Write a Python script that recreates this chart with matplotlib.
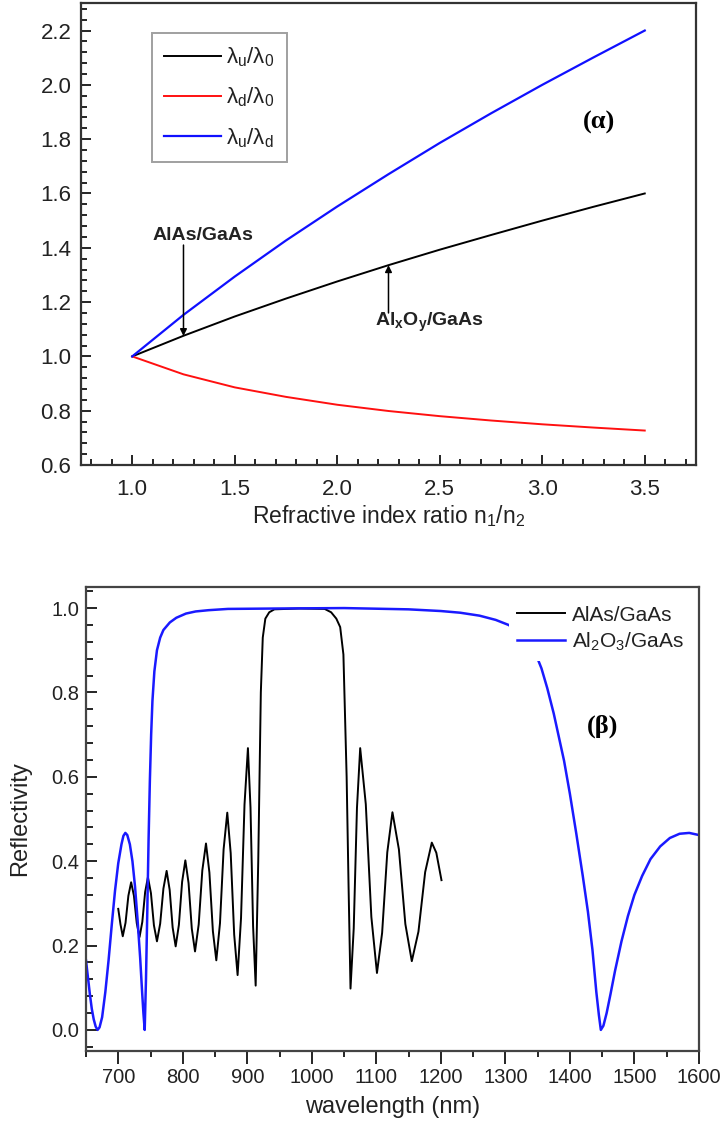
import numpy as np
import matplotlib
matplotlib.use('Agg')
import matplotlib.pyplot as plt
from matplotlib.ticker import MultipleLocator

plt.rc('font', family = 'Liberation Sans')
plt.rc('mathtext', default = 'regular')

# (a) stop band edges vs refractive index ratio
ratio = [1.0, 1.25, 1.5, 1.75, 2.0, 2.25, 2.5, 2.75, 3.0, 3.25, 3.5]
lam_u_0 = [1.000, 1.076, 1.147, 1.213, 1.276, 1.336, 1.393, 1.447, 1.500, 1.551, 1.600]
lam_d_0 = [1.000, 0.934, 0.886, 0.851, 0.822, 0.799, 0.780, 0.764, 0.750, 0.738, 0.727]
lam_u_d = [1.000, 1.153, 1.294, 1.427, 1.552, 1.671, 1.786, 1.895, 2.000, 2.101, 2.200]
labels_a = ['λ$_u$/λ$_0$', 'λ$_d$/λ$_0$', 'λ$_u$/λ$_d$']

# (b) reflectivity spectra
black_wl = [700, 703.5, 707, 711.3, 715.7, 720, 724.3, 728.7, 733, 737.3, 741.7, 746,
            750.7, 755.3, 760, 765, 770, 775, 779.7, 784.3, 789, 794, 799, 804, 809, 814,
            819, 824.7, 830.3, 836, 841.3, 846.7, 852, 857.7, 863.3, 869, 874.3, 879.7,
            885, 890.3, 895.7, 901, 905, 909, 913, 917, 921, 924, 928, 934, 942, 980,
            1020, 1030, 1038, 1044, 1049, 1054, 1057, 1060, 1065, 1070, 1075, 1083.7,
            1092.3, 1101, 1109, 1117, 1125, 1135, 1145, 1155, 1165.3, 1175.7, 1186,
            1193, 1201]
black_R = [0.287, 0.25, 0.222, 0.254, 0.318, 0.350, 0.318, 0.253, 0.220, 0.256, 0.327,
           0.362, 0.324, 0.248, 0.210, 0.252, 0.335, 0.377, 0.332, 0.243, 0.198, 0.249,
           0.351, 0.402, 0.348, 0.240, 0.186, 0.250, 0.378, 0.442, 0.373, 0.234, 0.165,
           0.253, 0.428, 0.515, 0.419, 0.226, 0.130, 0.265, 0.534, 0.668, 0.527, 0.246,
           0.105, 0.40, 0.80, 0.93, 0.975, 0.99, 0.997, 0.999, 0.998, 0.99, 0.975, 0.955,
           0.89, 0.60, 0.34, 0.098, 0.241, 0.526, 0.668, 0.535, 0.268, 0.135, 0.230,
           0.421, 0.516, 0.428, 0.251, 0.163, 0.233, 0.374, 0.444, 0.42, 0.355]
blue_wl = [650, 653, 656, 659, 662, 665, 668, 671, 675, 680, 685, 690, 695, 700, 705,
           708, 711, 714, 718, 722, 726, 730, 734, 737, 739, 741, 743, 745, 747, 749,
           751, 753, 756, 760, 765, 770, 780, 790, 805, 820, 840, 870, 950, 1050, 1150,
           1200, 1230, 1260, 1285, 1305, 1320, 1335, 1350, 1356, 1365, 1375, 1385, 1391,
           1400, 1410, 1420, 1428, 1435, 1441, 1445, 1448, 1452, 1457, 1463, 1470, 1480,
           1490, 1500, 1512, 1525, 1540, 1555, 1570, 1585, 1600]
blue_R = [0.165, 0.125, 0.085, 0.05, 0.025, 0.008, 0.0, 0.006, 0.03, 0.09, 0.165, 0.25,
          0.33, 0.395, 0.44, 0.46, 0.467, 0.462, 0.44, 0.40, 0.34, 0.26, 0.17, 0.09,
          0.04, 0.0, 0.12, 0.28, 0.45, 0.59, 0.70, 0.78, 0.85, 0.90, 0.93, 0.948, 0.966,
          0.977, 0.987, 0.992, 0.995, 0.998, 0.999, 1.0, 0.997, 0.993, 0.989, 0.982,
          0.972, 0.96, 0.945, 0.92, 0.88, 0.857, 0.81, 0.75, 0.68, 0.638, 0.56, 0.465,
          0.365, 0.28, 0.19, 0.09, 0.035, 0.0, 0.01, 0.04, 0.085, 0.14, 0.21, 0.27, 0.32,
          0.365, 0.405, 0.435, 0.455, 0.465, 0.467, 0.462]
labels_b = ['AlAs/GaAs', 'Al$_2$O$_3$/GaAs']

tick_color = '#222222'
fig = plt.figure(figsize = (7.25, 11.26), dpi = 100)

# ---- top panel
ax1 = fig.add_axes([0.1117, 0.587, 0.8483, 0.410])
ax1.plot(ratio, lam_u_0, color = 'black', lw = 1.4, label = labels_a[0])
ax1.plot(ratio, lam_d_0, color = '#ff1010', lw = 1.4, label = labels_a[1])
ax1.plot(ratio, lam_u_d, color = '#1010ff', lw = 1.6, label = labels_a[2])
ax1.set_xlim(0.75, 3.75)
ax1.set_ylim(0.6, 2.3)
ax1.xaxis.set_major_locator(MultipleLocator(0.5))
ax1.xaxis.set_minor_locator(MultipleLocator(0.1))
ax1.yaxis.set_major_locator(MultipleLocator(0.2))
ax1.yaxis.set_minor_locator(MultipleLocator(0.04))
ax1.xaxis.set_major_formatter('{x:.1f}')
ax1.yaxis.set_major_formatter('{x:.1f}')
ax1.tick_params(which = 'both', direction = 'in', top = False, right = False,
    labelsize = 16, labelcolor = tick_color, width = 1.2)
ax1.tick_params(which = 'major', length = 7)
ax1.tick_params(which = 'minor', length = 4)
ax1.tick_params(axis = 'x', pad = 10)
ax1.tick_params(axis = 'y', pad = 7)
ax1.set_xlabel('Refractive index ratio n$_1$/n$_2$', fontsize = 16.5,
    color = tick_color, labelpad = 2)
for s in ax1.spines.values():
    s.set_linewidth(1.6)
    s.set_color('#333333')

leg = ax1.legend(loc = 'upper left', bbox_to_anchor = (0.115, 0.935),
    borderaxespad = 0, borderpad = 0.55, handlelength = 2.55, handletextpad = 0.25,
    labelspacing = 0.75, fancybox = False, edgecolor = '#888888',
    prop = {'size': 16})
leg.get_frame().set_linewidth(1.4)
for t in leg.get_texts():
    t.set_color(tick_color)

ax1.annotate('', xy = (1.25, 1.075), xytext = (1.25, 1.41),
    arrowprops = dict(arrowstyle = '-|>', color = 'black', lw = 1.1,
                      mutation_scale = 10, shrinkA = 0, shrinkB = 0))
ax1.annotate('', xy = (2.25, 1.336), xytext = (2.25, 1.16),
    arrowprops = dict(arrowstyle = '-|>', color = 'black', lw = 1.1,
                      mutation_scale = 10, shrinkA = 0, shrinkB = 0))
ax1.text(1.345, 1.446, 'AlAs/GaAs', ha = 'center', va = 'center',
    fontsize = 14, fontweight = 'bold', color = '#222222')
ax1.text(2.45, 1.126, 'Al$_x$O$_y$/GaAs', ha = 'center', va = 'center',
    fontsize = 14, fontweight = 'bold', color = '#222222')
ax1.text(3.277, 1.86, '(α)', ha = 'center', va = 'center', fontsize = 19,
    fontweight = 'bold', family = 'Liberation Serif',
    bbox = dict(boxstyle = 'square,pad=0.6', fc = 'white', ec = 'none'))

# ---- bottom panel
ax2 = fig.add_axes([0.1186, 0.0666, 0.8454, 0.4121])
ax2.plot(black_wl, black_R, color = 'black', lw = 1.4, label = labels_b[0])
ax2.plot(blue_wl, blue_R, color = '#1a1aff', lw = 1.8, label = labels_b[1])
ax2.set_xlim(650, 1600)
ax2.set_ylim(-0.05, 1.05)
ax2.xaxis.set_major_locator(MultipleLocator(100))
ax2.xaxis.set_minor_locator(MultipleLocator(50))
ax2.yaxis.set_major_locator(MultipleLocator(0.2))
ax2.yaxis.set_minor_locator(MultipleLocator(0.04))
ax2.yaxis.set_major_formatter('{x:.1f}')
ax2.tick_params(axis = 'x', which = 'both', direction = 'out', top = False)
ax2.tick_params(axis = 'y', which = 'both', direction = 'in', right = False)
ax2.tick_params(which = 'both', labelsize = 14.5, labelcolor = tick_color, width = 1.2)
ax2.tick_params(axis = 'x', which = 'major', length = 9)
ax2.tick_params(axis = 'x', which = 'minor', length = 4.5)
ax2.tick_params(axis = 'y', which = 'major', length = 8, pad = 5)
ax2.tick_params(axis = 'y', which = 'minor', length = 5)
ax2.set_xlabel('wavelength (nm)', fontsize = 17, color = tick_color, labelpad = 6)
ax2.set_ylabel('Reflectivity', fontsize = 17, color = tick_color, labelpad = 14)
for s in ax2.spines.values():
    s.set_linewidth(1.6)
    s.set_color('#444444')

leg2 = ax2.legend(loc = 'upper left', bbox_to_anchor = (0.69, 0.978),
    borderaxespad = 0, borderpad = 0.4, handlelength = 2.3, handletextpad = 0.35,
    labelspacing = 0.3, fancybox = False, framealpha = 1, edgecolor = 'none',
    prop = {'size': 15})
for t in leg2.get_texts():
    t.set_color(tick_color)
ax2.text(1451, 0.72, '(β)', ha = 'center', va = 'center', fontsize = 19,
    fontweight = 'bold', family = 'Liberation Serif', zorder = 4,
    bbox = dict(boxstyle = 'square,pad=0.6', fc = 'white', ec = 'none'))

plt.savefig('out.png', dpi = 100)
